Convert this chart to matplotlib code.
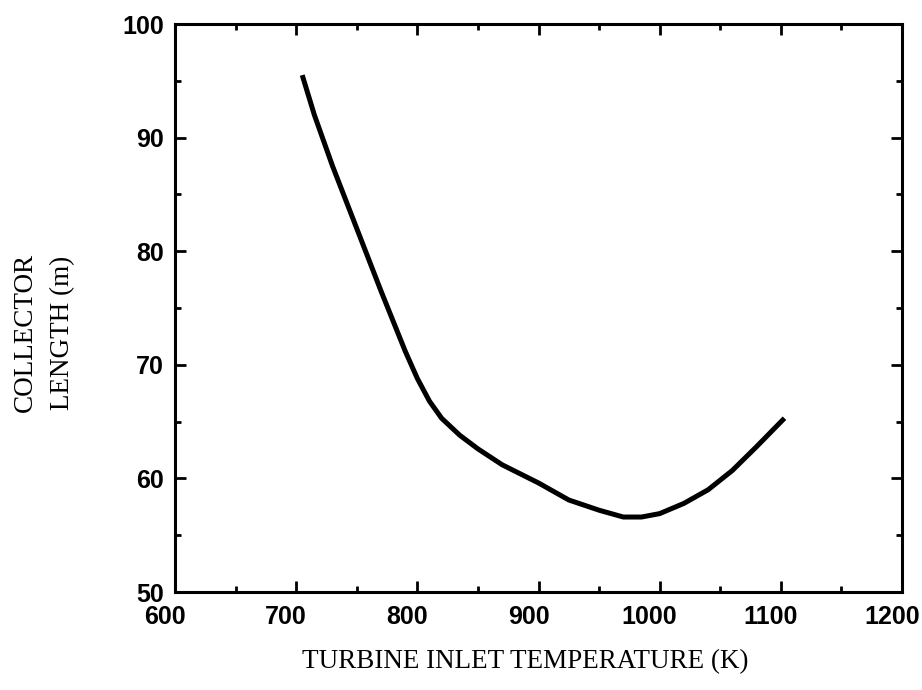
import matplotlib
matplotlib.use("Agg")
import matplotlib.pyplot as plt
from matplotlib.ticker import MultipleLocator
from matplotlib.transforms import ScaledTranslation

# Data
temperature = [705, 715, 730, 750, 770, 790, 800, 810, 820, 835, 850, 870, 900, 925, 950, 970, 985, 1000, 1020, 1040, 1060, 1080, 1103]
length_m = [95.5, 92.0, 87.5, 82.0, 76.5, 71.2, 68.8, 66.8, 65.3, 63.8, 62.6, 61.2, 59.6, 58.1, 57.2, 56.6, 56.6, 56.9, 57.8, 59.0, 60.7, 62.8, 65.3]

x_ticks = [600, 700, 800, 900, 1000, 1100, 1200]
y_ticks = [50, 60, 70, 80, 90, 100]

W, H = 922, 690
fig = plt.figure(figsize=(W / 100, H / 100), dpi=100)
left, right, top, bottom = 175, 902, 24, 592
ax = fig.add_axes([left / W, 1 - bottom / H, (right - left) / W, (bottom - top) / H])

ax.plot(temperature, length_m, color="black", lw=3.6, solid_joinstyle="round", solid_capstyle="butt")

ax.set_xlim(600, 1200)
ax.set_ylim(50, 100)
ax.set_xticks(x_ticks)
ax.set_yticks(y_ticks)
ax.xaxis.set_minor_locator(MultipleLocator(50))
ax.yaxis.set_minor_locator(MultipleLocator(5))

for s in ax.spines.values():
    s.set_linewidth(2.2)

ax.tick_params(which="both", direction="in", top=True, right=True, width=2.0)
ax.tick_params(which="major", length=8)
ax.tick_params(which="minor", length=4.5)
ax.tick_params(axis="x", which="major", pad=9)
ax.tick_params(axis="y", which="major", pad=8)

shift = ScaledTranslation(-10 / 100, 0, fig.dpi_scale_trans)
for lab in ax.get_xticklabels():
    lab.set_transform(lab.get_transform() + shift)
for lab in ax.get_xticklabels() + ax.get_yticklabels():
    lab.set_fontfamily("Liberation Sans")
    lab.set_fontweight("bold")
    lab.set_fontsize(18)

serif = dict(family="Liberation Serif", fontsize=19.5, color="black")
fig.text(525 / W, 1 - 662 / H, "TURBINE INLET TEMPERATURE (K)",
         ha="center", va="center", **serif)
fig.text(25 / W, 1 - 332 / H, "COLLECTOR", rotation=90, ha="center", va="center", **serif)
fig.text(63 / W, 1 - 333 / H, "LENGTH (m)", rotation=90, ha="center", va="center", **serif)

fig.savefig("out.png", dpi=100)
